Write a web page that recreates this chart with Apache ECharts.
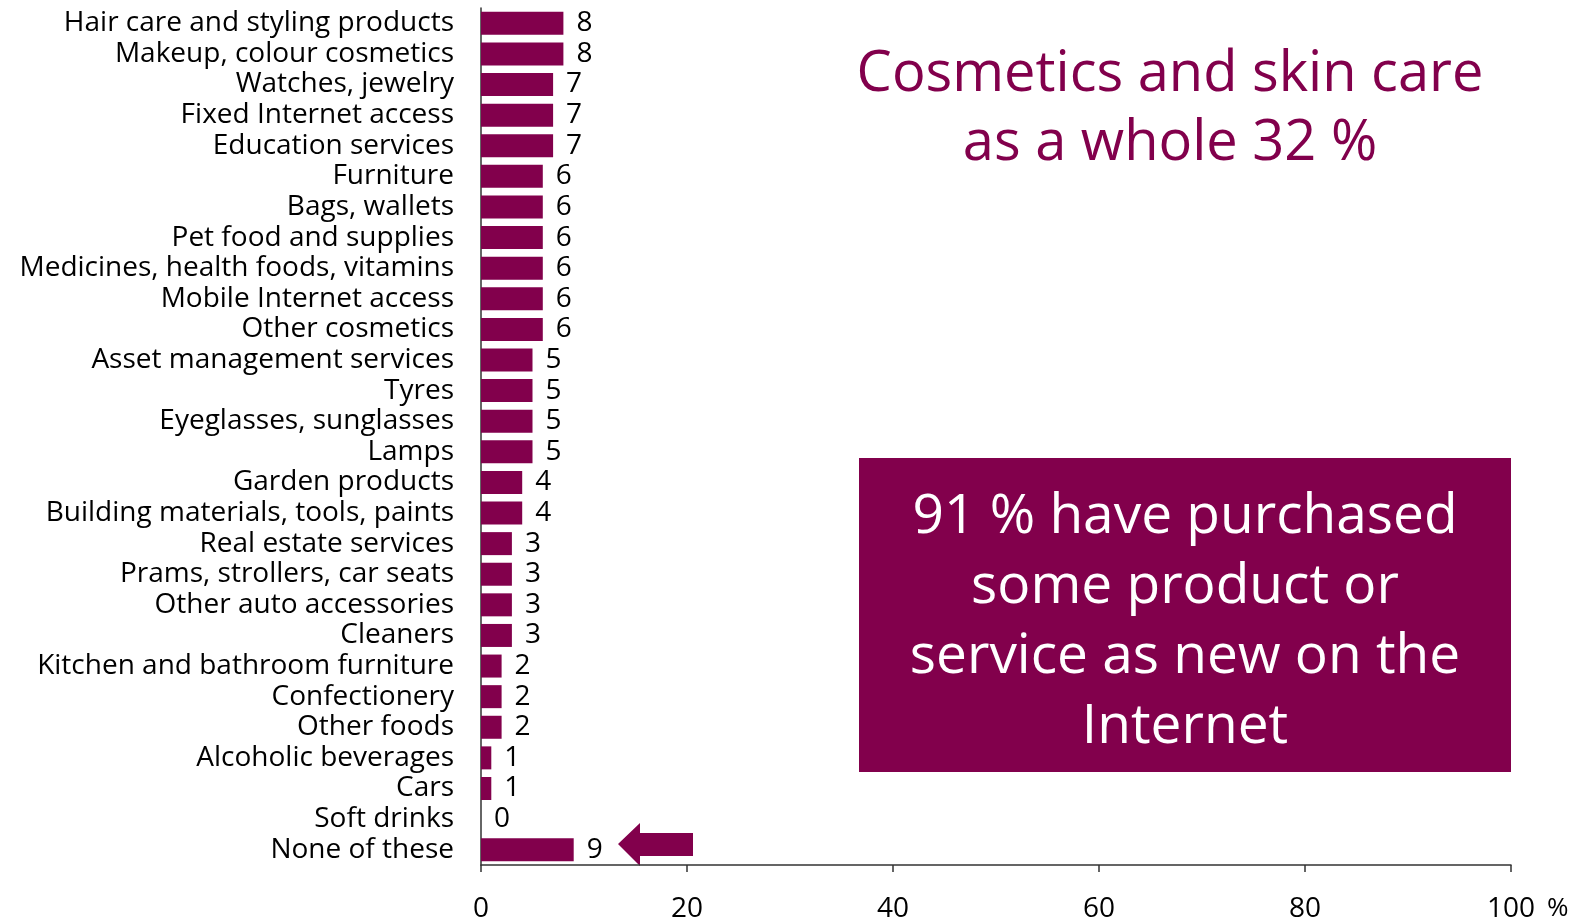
<!DOCTYPE html>
<html>
<head>
<meta charset="utf-8">
<script src="https://cdn.jsdelivr.net/npm/echarts@6/dist/echarts.min.js"></script>
<style>
  html, body { margin: 0; padding: 0; background: #fff; }
  #main { width: 1581px; height: 923px; }
</style>
</head>
<body>
<div id="main"></div>
<script>
var categories = [
  'Hair care and styling products', 'Makeup, colour cosmetics', 'Watches, jewelry',
  'Fixed Internet access', 'Education services', 'Furniture', 'Bags, wallets',
  'Pet food and supplies', 'Medicines, health foods, vitamins', 'Mobile Internet access',
  'Other cosmetics', 'Asset management services', 'Tyres', 'Eyeglasses, sunglasses',
  'Lamps', 'Garden products', 'Building materials, tools, paints', 'Real estate services',
  'Prams, strollers, car seats', 'Other auto accessories', 'Cleaners',
  'Kitchen and bathroom furniture', 'Confectionery', 'Other foods',
  'Alcoholic beverages', 'Cars', 'Soft drinks', 'None of these'
];
var values = [8, 8, 7, 7, 7, 6, 6, 6, 6, 6, 6, 5, 5, 5, 5, 4, 4, 3, 3, 3, 3, 2, 2, 2, 1, 1, 0, 9];
var xTicks = [0, 20, 40, 60, 80, 100];

var maroon = '#82004c';
var font = 'Open Sans';

var chart = echarts.init(document.getElementById('main'));
chart.setOption({
  animation: false,
  grid: { left: 481, right: 70, top: 8, bottom: 55 },
  xAxis: {
    type: 'value',
    min: xTicks[0],
    max: xTicks[xTicks.length - 1],
    interval: 20,
    splitLine: { show: false },
    axisLine: { show: true, lineStyle: { color: '#333', width: 1.5 } },
    axisTick: { show: true, length: 7, lineStyle: { color: '#333', width: 1.5 } },
    axisLabel: { color: '#000', fontSize: 28, fontFamily: font, margin: 30 }
  },
  yAxis: {
    type: 'category',
    inverse: true,
    data: categories,
    axisLine: { lineStyle: { color: '#333', width: 1.5 } },
    axisTick: { length: 7, lineStyle: { color: '#333', width: 1.5 } },
    axisLabel: { color: '#000', fontSize: 28, fontFamily: font, margin: 27, interval: 0, padding: [3, 0, 0, 0] }
  },
  series: [{
    type: 'bar',
    data: values,
    barWidth: 23,
    itemStyle: { color: maroon },
    label: {
      show: true,
      position: 'right',
      distance: 13,
      color: '#000',
      fontSize: 28,
      fontFamily: font,
      padding: [3, 0, 0, 0]
    }
  }],
  graphic: [
    {
      type: 'text', left: 1547, top: 896,
      style: { text: '%', fontSize: 26, fontFamily: font, fill: '#000' }
    },
    {
      type: 'text', x: 1170, y: 110,
      style: {
        text: 'Cosmetics and skin care\nas a whole 32 %',
        fontSize: 56, fontFamily: font, fill: maroon,
        align: 'center', verticalAlign: 'middle', lineHeight: 69
      }
    },
    {
      type: 'rect',
      shape: { x: 859, y: 458, width: 652, height: 314 },
      style: { fill: maroon }
    },
    {
      type: 'text', x: 1185, y: 622,
      style: {
        text: '91 % have purchased\nsome product or\nservice as new on the\nInternet',
        fontSize: 55, fontFamily: font, fill: '#fff',
        align: 'center', verticalAlign: 'middle', lineHeight: 70
      }
    },
    {
      type: 'polygon',
      shape: {
        points: [[618, 844], [640, 823], [640, 833], [693, 833], [693, 856], [640, 856], [640, 866]]
      },
      style: { fill: maroon }
    }
  ]
});
</script>
</body>
</html>
